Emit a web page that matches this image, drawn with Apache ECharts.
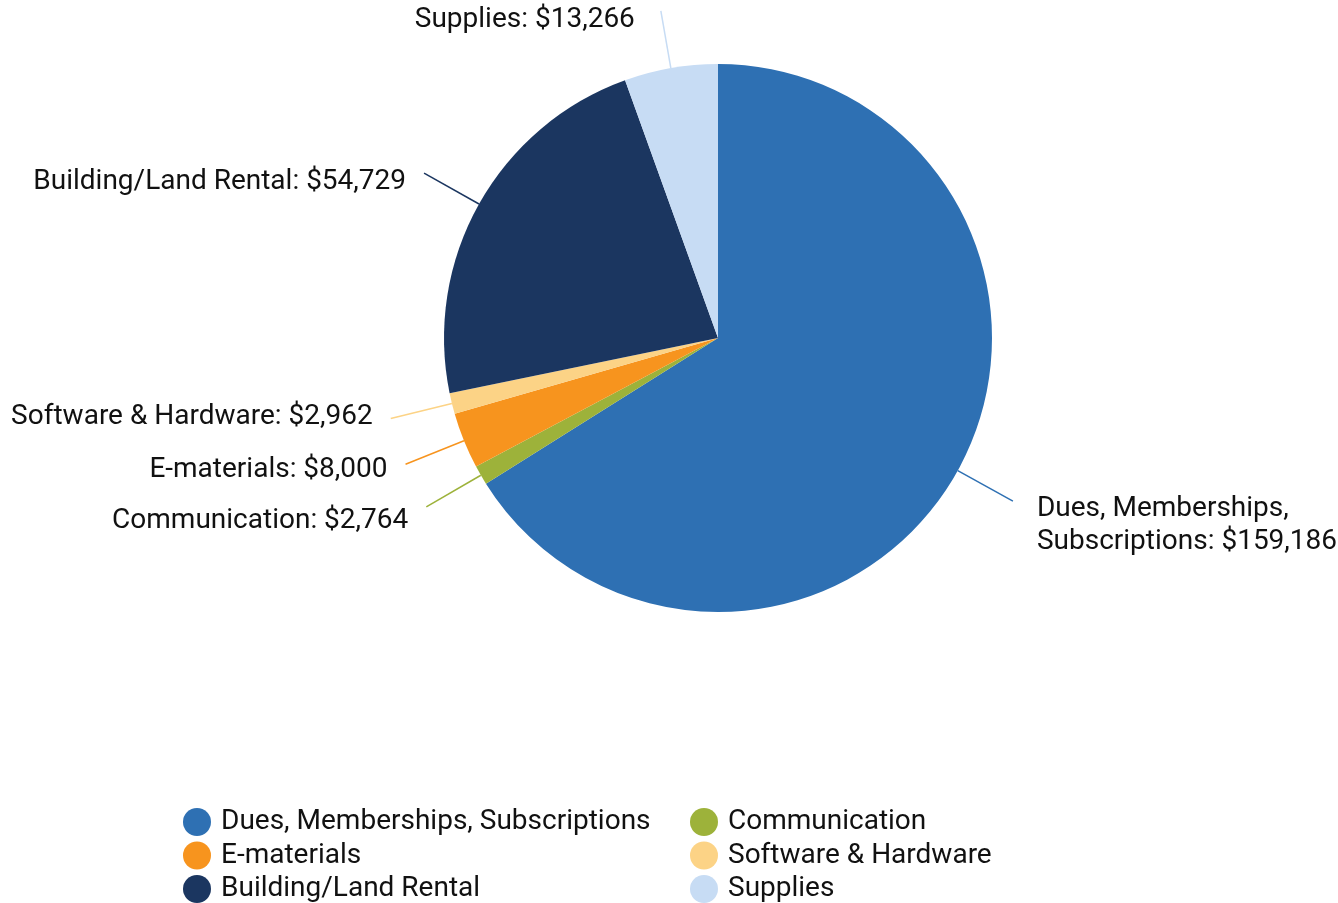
<!DOCTYPE html>
<html><head><meta charset="utf-8">
<script src="https://cdn.jsdelivr.net/npm/echarts@6/dist/echarts.min.js"></script>
<style>html,body{margin:0;padding:0;background:#fff}#c{width:1338px;height:903px}</style>
</head><body><div id="c"></div>
<script>
const categories = ['Dues, Memberships, Subscriptions','Communication','E-materials','Software & Hardware','Building/Land Rental','Supplies'];
const values = [159186, 2764, 8000, 2962, 54729, 13266];
const colors = ['#2E70B3','#9DB23A','#F7941E','#FCD386','#1B3660','#C7DCF4'];
const legendCol1 = ['Dues, Memberships, Subscriptions','E-materials','Building/Land Rental'];
const legendCol2 = ['Communication','Software & Hardware','Supplies'];

const fmt = v => '$' + v.toLocaleString('en-US');
const styled = key => p => '{' + key + '|' + p.name + ': ' + fmt(p.value) + '}';
const data = categories.map((n, i) => {
  const item = { name: n, value: values[i], itemStyle: { color: colors[i] }, labelLine: { lineStyle: { color: colors[i] } } };
  if (i === 0) item.label = { distanceToLabelLine: 24, formatter: '{s| }\n{e|Dues, Memberships,}\n{e|Subscriptions: ' + fmt(values[i]) + '}' };
  if (n === 'Supplies') { item.labelLine.length = 58; item.label = { distanceToLabelLine: 26, formatter: styled('f') }; }
  if (n === 'Building/Land Rental') item.label = { formatter: styled('f') };
  if (n === 'Communication') item.label = { formatter: styled('c') };
  if (n === 'Software & Hardware') item.label = { formatter: styled('b') };
  return item;
});

const legendBase = {
  orient: 'vertical', icon: 'circle', itemWidth: 28, itemHeight: 28, itemGap: 5.5, padding: 0,
  textStyle: { fontFamily: 'Roboto', fontSize: 28, lineHeight: 28, color: '#111', padding: [0, 0, 0, 5] },
  selectedMode: false
};
const txt = { fontFamily: 'Roboto', fontSize: 28, color: '#111' };
const chart = echarts.init(document.getElementById('c'), null, { renderer: 'canvas' });
chart.setOption({
  animation: false,
  legend: [
    Object.assign({}, legendBase, { data: legendCol1, left: 183, top: 808 }),
    Object.assign({}, legendBase, { data: legendCol2, left: 690, top: 808 })
  ],
  series: [{
    type: 'pie', left: 0, top: 0, width: 1700, height: 903,
    center: [718, 338], radius: 274, startAngle: 90, clockwise: true,
    avoidLabelOverlap: false,
    labelLayout: { hideOverlap: false },
    data: data,
    label: {
      color: '#111',
      formatter: styled('a'),
      distanceToLabelLine: 18,
      rich: {
        a: Object.assign({ lineHeight: 28, padding: [12, 0, 0, 0] }, txt),
        b: Object.assign({ lineHeight: 28, padding: [0, 0, 4, 0] }, txt),
        c: Object.assign({ lineHeight: 28, padding: [28, 0, 0, 0] }, txt),
        f: Object.assign({ lineHeight: 28, padding: [18, 0, 0, 0] }, txt),
        s: { fontSize: 1, lineHeight: 49 },
        e: Object.assign({ lineHeight: 33 }, txt)
      }
    },
    labelLine: { show: true, length: 63, length2: 0, lineStyle: { width: 1.5 } }
  }]
});
</script></body></html>
